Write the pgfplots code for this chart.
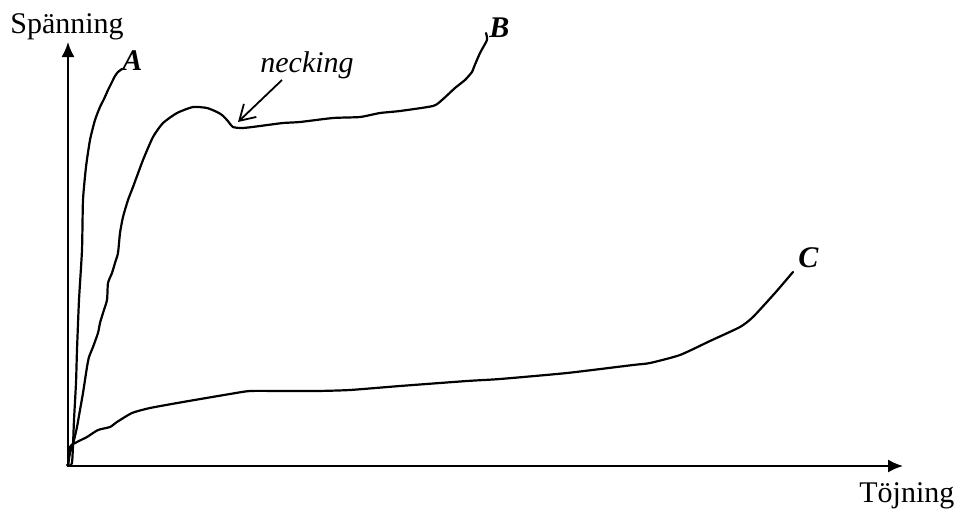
\documentclass[border=0pt]{standalone}
\usepackage{fontspec}
\setmainfont{Liberation Serif}
\usepackage{pgfplots}
\pgfplotsset{compat=1.18}
\usetikzlibrary{arrows.meta}

% Hand-drawn stress-strain curves (coordinates in drawing units)
\pgfplotstableread{
x y
-1 1
4 3
6 46
8 83
9 116
11 166
14 216
15 266
18 299
22 326
27 346
32 359
36 367
40 376
44 384
47 390
50 394
54 397
}\curveA

\pgfplotstableread{
x y
0 0
2 13
6 26
9 39
12 56
15 73
19 99
21 109
25 119
30 133
32 143
35 153
39 166
40 183
44 193
47 203
50 213
52 233
55 249
60 266
65 279
75 306
85 329
95 343
109 353
125 359
139 358
149 354
154 351
159 346
165 339
175 338
192 340
215 343
232 344
265 348
292 349
312 353
332 355
365 360
374 366
387 378
397 386
404 394
406 399
412 413
419 426
418 433
}\curveB

\pgfplotstableread{
x y
0 0
2 19
9 24
19 29
30 36
42 39
49 44
64 53
82 58
115 64
162 72
182 75
215 75
249 75
282 76
332 80
399 85
432 87
499 93
565 101
582 103
612 111
642 125
672 139
685 149
707 173
725 194
}\curveC

\begin{document}
\fontsize{15pt}{18pt}\selectfont
\begin{tikzpicture}
\begin{axis}[
  x=0.5pt, y=0.5pt,
  xmin=0, xmax=835, ymin=0, ymax=424,
  axis lines=left,
  axis line style={line width=0.9pt, -{Latex[length=7.5pt,width=6.5pt]}},
  xtick=\empty, ytick=\empty,
  clip=false,
  curve/.style={black, line width=1.1pt, line join=round, line cap=round,
    smooth, tension=0.35},
]
\path (axis cs:-68,-42) rectangle (axis cs:887,466);

\addplot[curve] table {\curveA};
\addplot[curve] table {\curveB};
\addplot[curve] table {\curveC};

\node[anchor=base west, inner sep=0pt] at (axis cs:-58,433) {Spänning};
\node[anchor=base west, inner sep=0pt] at (axis cs:791,-36) {Töjning};

\node[anchor=base west, inner sep=0pt] at (axis cs:54,396) {\textbf{\textit{A}}};
\node[anchor=base west, inner sep=0pt] at (axis cs:421,429) {\textbf{\textit{B}}};
\node[anchor=base west, inner sep=0pt] at (axis cs:730,199) {\textbf{\textit{C}}};

\node[anchor=base, inner sep=0pt] at (axis cs:239,394) {\textit{necking}};
\addplot[black, line width=0.9pt, -{Straight Barb[length=7.5pt,width=9pt,line width=0.9pt]}]
  coordinates {(214,386) (170,344)};
\end{axis}
\end{tikzpicture}
\end{document}
